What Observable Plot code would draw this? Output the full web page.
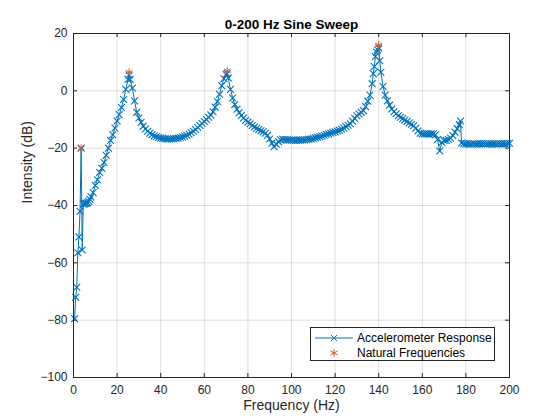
<!DOCTYPE html>
<html>
<head>
<meta charset="utf-8">
<script src="https://cdn.jsdelivr.net/npm/d3@7"></script>
<script src="https://cdn.jsdelivr.net/npm/@observablehq/plot@0.6"></script>
<style>
  body { margin: 0; background: #fff; }
  #wrap { position: relative; width: 560px; height: 420px; font-family: "Liberation Sans", Arial, sans-serif; }
  #legend { position: absolute; left: 310px; top: 327px; width: 185px; height: 34px; border: 1px solid #262626; background: #fff; box-sizing: border-box; font-size: 12px; color: #000; }
  .row { position: absolute; left: 0; height: 16px; display: flex; align-items: center; }
  .row svg { margin-left: 4px; }
  .row span { margin-left: 4px; white-space: nowrap; }
</style>
</head>
<body>
<div id="wrap"></div>
<script>
const freqHz = [0.5,1,1.5,2,2.5,3,3.5,4,4.5,5,5.5,6,6.5,7,7.5,8,
  9,10,11,12,13,14,15,16,17,18,19,20,21,22,23,24,25,25.5,26,27,28,29,30,
  31,32,33,34,35,36,37,38,39,40,41,42,43,44,45,46,47,48,49,50,
  51,52,53,54,55,56,57,58,59,60,61,62,63,64,65,66,67,68,69,70,70.5,
  71,72,73,74,75,76,77,78,79,80,81,82,83,84,85,86,87,88,89,90,
  91,92,93,94,95,96,97,98,99,100,101,102,103,104,105,106,107,108,109,110,
  111,112,113,114,115,116,117,118,119,120,121,122,123,124,125,126,127,128,129,130,
  131,132,133,134,135,136,137,137.5,138,138.5,139,139.5,140,140.5,
  141,142,143,144,145,146,147,148,149,150,151,152,153,154,155,156,157,158,159,160,
  161,162,163,164,165,166,167,168,169,170,171,172,173,174,175,176,177,177.5,178,179,
  180,181,182,183,184,185,186,187,188,189,190,191,192,193,194,195,196,197,198,199,200];
const intensityDb = [-79.5,-72,-68.5,-56.5,-51,-42,-20,-55.5,-39.5,-39.5,-39.3,-39.2,-39,-38.5,-37.8,-37,
  -35.5,-33,-31,-28.5,-27,-25,-22.5,-20,-17.3,-15.3,-13,-10.5,-8.3,-5.8,-3,0.5,4,5.5,4,1,-3.5,-7.5,-9.5,
  -11,-12.3,-13.3,-14.1,-14.8,-15.3,-15.7,-16,-16.3,-16.5,-16.6,-16.7,-16.8,-16.8,-16.8,-16.7,-16.6,-16.5,-16.3,-16.1,
  -15.8,-15.5,-15.1,-14.6,-14.1,-13.5,-12.8,-12.1,-11.4,-10.7,-10,-9.2,-8.4,-7.3,-5.7,-3.7,-1.2,1.8,4.2,5.7,6,
  4.5,0.5,-2.5,-4.8,-6.4,-7.6,-8.6,-9.5,-10.3,-10.9,-11.5,-12.1,-12.6,-13.1,-13.5,-13.9,-14.3,-14.8,-15.5,-16.8,
  -18.3,-19.5,-18.6,-17.7,-17.1,-16.9,-17,-17.1,-17.2,-17.2,-17.2,-17.3,-17.2,-17.2,-17.1,-17.1,-17,-16.9,-16.8,-16.6,
  -16.4,-16.2,-16,-15.8,-15.5,-15.2,-15,-14.7,-14.5,-14.3,-14,-13.8,-13.4,-13,-12.5,-12,-11.5,-10.6,-9.6,-8.7,
  -8.1,-7.5,-6.9,-5.5,-3.6,-1.5,2.5,6,8.5,12,13.5,14.3,15,10.5,
  6.5,1.5,-1.5,-3.5,-5,-6.3,-7.3,-8,-8.7,-9.2,-9.7,-10.2,-10.7,-11.2,-11.7,-12.2,-13,-14,-14.8,-15,
  -15,-15,-15.1,-15,-15,-15.3,-17,-21,-18,-17.3,-17.3,-17,-16.5,-15.6,-14.4,-13.2,-11.8,-10.5,-18.2,-18.4,
  -18.5,-18.5,-18.6,-18.5,-18.5,-18.6,-18.5,-18.5,-18.4,-18.5,-18.5,-18.5,-18.6,-18.5,-18.5,-18.4,-18.5,-18.5,-18.5,-18.4,-18.3];
const naturalHz = [3.5, 25.5, 70.5, 140];
const naturalDb = [-20, 6.5, 7, 16];
const xTicks = [0,20,40,60,80,100,120,140,160,180,200];
const yTicks = [-100,-80,-60,-40,-20,0,20];
const titleText = "0-200 Hz Sine Sweep";
const xLabel = "Frequency (Hz)";
const yLabel = "Intensity (dB)";
const seriesNames = ["Accelerometer Response", "Natural Frequencies"];

const response = freqHz.map((f, i) => ({f, db: intensityDb[i]}));
const peaks = naturalHz.map((f, i) => ({f, db: naturalDb[i]}));

const blue = "#0072BD", orange = "#D95319", axisColor = "#262626";
const W = 560, H = 420, mL = 73, mR = 51, mT = 33, mB = 43;
const innerW = W - mL - mR, innerH = H - mT - mB, tickLen = 4;

const chart = Plot.plot({
  width: W, height: H,
  marginLeft: mL, marginRight: mR, marginTop: mT, marginBottom: mB,
  style: {fontFamily: "Liberation Sans, Arial, sans-serif", fontSize: "12px", color: axisColor, background: "#fff", overflow: "visible"},
  x: {domain: [0, 200]},
  y: {domain: [-100, 20]},
  marks: [
    Plot.gridX(xTicks, {stroke: axisColor, strokeOpacity: 0.15}),
    Plot.gridY(yTicks, {stroke: axisColor, strokeOpacity: 0.15}),
    Plot.line(response, {x: "f", y: "db", stroke: blue, strokeWidth: 1}),
    Plot.dot(response, {x: "f", y: "db", symbol: "times", r: 3.2, stroke: blue, strokeWidth: 1.1}),
    Plot.dot(peaks, {x: "f", y: "db", symbol: "asterisk", r: 3.6, stroke: orange, strokeWidth: 1}),
    Plot.frame({stroke: axisColor, strokeWidth: 1}),
    Plot.tickX(xTicks, {x: d => d, stroke: axisColor, insetTop: innerH - tickLen}),
    Plot.tickX(xTicks, {x: d => d, stroke: axisColor, insetBottom: innerH - tickLen}),
    Plot.tickY(yTicks, {y: d => d, stroke: axisColor, insetRight: innerW - tickLen}),
    Plot.tickY(yTicks, {y: d => d, stroke: axisColor, insetLeft: innerW - tickLen}),
    Plot.axisX(xTicks, {tickSize: 0, tickPadding: 8, label: null, fill: axisColor}),
    Plot.axisY(yTicks, {tickSize: 0, tickPadding: 6, label: null, fill: axisColor}),
    Plot.text([xLabel], {text: d => d, frameAnchor: "bottom", dy: 32, fontSize: 14, fill: axisColor}),
    Plot.text([yLabel], {text: d => d, frameAnchor: "left", dx: -46, dy: -2, rotate: -90, fontSize: 14, fill: axisColor}),
    Plot.text([titleText], {text: d => d, frameAnchor: "top", dy: -14, fontSize: 13.5, fontWeight: "bold", fill: "#000"})
  ]
});

const wrap = document.getElementById("wrap");
wrap.appendChild(chart);

const legend = document.createElement("div");
legend.id = "legend";
legend.innerHTML = `
  <div class="row" style="top:2px">
    <svg width="38" height="16"><line x1="0" y1="8" x2="38" y2="8" stroke="${blue}" stroke-width="1"/>
      <path d="M16,5L22,11M22,5L16,11" stroke="${blue}" stroke-width="1"/></svg>
    <span>${seriesNames[0]}</span>
  </div>
  <div class="row" style="top:17px">
    <svg width="38" height="16"><path d="M19,4.5V11.5M15.5,6L22.5,10M22.5,6L15.5,10" stroke="${orange}" stroke-width="1"/></svg>
    <span>${seriesNames[1]}</span>
  </div>`;
wrap.appendChild(legend);
</script>
</body>
</html>
